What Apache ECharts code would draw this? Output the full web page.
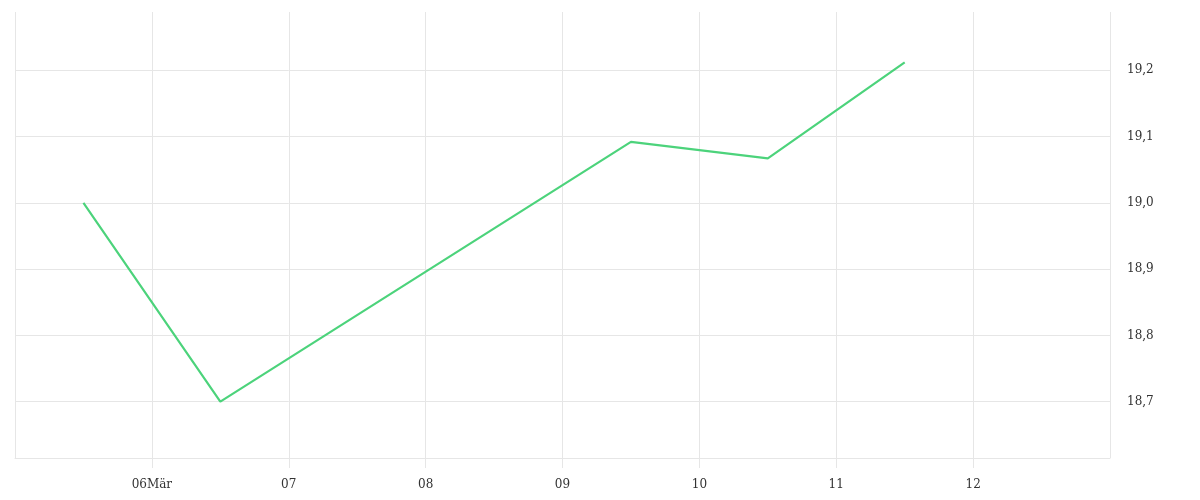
<!DOCTYPE html>
<html>
<head>
<meta charset="utf-8">
<script src="https://cdn.jsdelivr.net/npm/echarts@6/dist/echarts.min.js"></script>
<style>
  html, body { margin: 0; padding: 0; background: #fff; }
  #chart { width: 1200px; height: 500px; }
</style>
</head>
<body>
<div id="chart"></div>
<script>
// Kurswerte (Tagesmitte), Wochenende 07./08. ohne Werte
var dates = ['2020-03-05T12:00:00Z', '2020-03-06T12:00:00Z', '2020-03-09T12:00:00Z', '2020-03-10T12:00:00Z', '2020-03-11T12:00:00Z'];
var prices = [19.0, 18.7, 19.092, 19.067, 19.212];
var monthName = 'Mär';

var DAY = 86400000;
var xMin = Date.UTC(2020, 2, 5);
var xMax = Date.UTC(2020, 2, 13);

var chart = echarts.init(document.getElementById('chart'));

var points = dates.map(function (d, i) {
    return [Date.parse(d), prices[i]];
});

var gridColor = '#e6e6e6';
var font = 'DejaVu Serif';

chart.setOption({
    animation: false,
    grid: { left: 15, right: 90, top: 12, bottom: 42, containLabel: false },
    xAxis: {
        type: 'value',
        position: 'bottom',
        min: xMin,
        max: xMax,
        interval: DAY,
        axisLine: { show: true, onZero: false, lineStyle: { color: gridColor, width: 1 } },
        axisTick: { show: true, inside: false, length: 10, lineStyle: { color: gridColor, width: 1 } },
        splitLine: { show: true, lineStyle: { color: gridColor } },
        axisLabel: {
            margin: 21,
            color: '#333',
            fontFamily: font,
            fontSize: 12,
            showMinLabel: false,
            showMaxLabel: false,
            formatter: function (v, idx) {
                var d = new Date(v).getUTCDate();
                var s = (d < 10 ? '0' : '') + d;
                return idx === 1 ? s + monthName : s;
            }
        }
    },
    yAxis: {
        type: 'value',
        position: 'right',
        min: 18.615,
        max: 19.288,
        splitNumber: 6,
        axisLine: { show: false },
        axisTick: { show: false },
        splitLine: {
            show: true,
            lineStyle: { color: [gridColor, gridColor, gridColor, gridColor, gridColor, gridColor, gridColor, 'rgba(0,0,0,0)'] }
        },
        axisLabel: {
            margin: 17,
            color: '#333',
            fontFamily: font,
            fontSize: 12,
            showMinLabel: false,
            showMaxLabel: false,
            formatter: function (v) {
                return v.toFixed(1).replace('.', ',');
            }
        }
    },
    series: [{
        type: 'line',
        data: points,
        showSymbol: false,
        symbol: 'none',
        lineStyle: { color: '#4cd37b', width: 2.2 }
    }]
});
</script>
</body>
</html>
